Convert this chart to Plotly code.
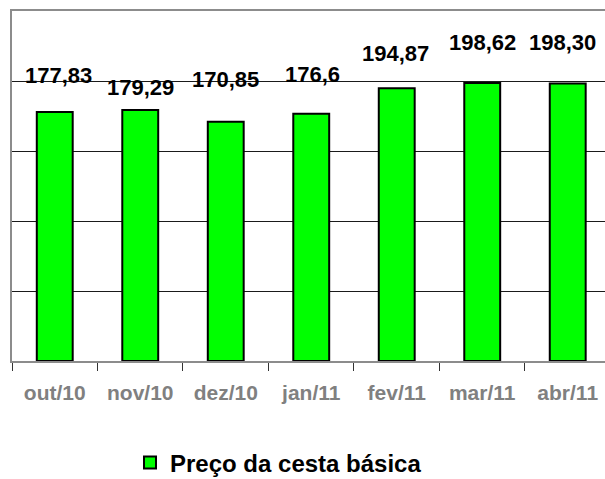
import plotly.graph_objects as go

categories = ["out/10", "nov/10", "dez/10", "jan/11", "fev/11", "mar/11", "abr/11"]
values = [177.83, 179.29, 170.85, 176.6, 194.87, 198.62, 198.30]
value_labels = ["177,83", "179,29", "170,85", "176,6", "194,87", "198,62", "198,30"]
series_name = "Preço da cesta básica"

# manual label offsets (pixels), as placed in the original chart
label_yshift = [36.5, 22.5, 42.3, 39.6, 34.5, 40.4, 40.9]
label_xshift = [4, 0, 0, 1, -1, 0, -5]

FONT = "Liberation Sans, Arial, sans-serif"

fig = go.Figure()
fig.add_trace(go.Bar(
    x=categories, y=values, name=series_name,
    marker=dict(color="#00FF00", line=dict(color="black", width=2)),
    showlegend=True, hoverinfo="skip",
))

for c, v, t, ys, xs in zip(categories, values, value_labels, label_yshift, label_xshift):
    fig.add_annotation(x=c, y=v, text=t, showarrow=False, yanchor="middle",
                       xanchor="center", yshift=ys, xshift=xs,
                       font=dict(family=FONT, size=22, color="black", weight="bold"))

fig.update_layout(
    width=605, height=479,
    margin=dict(l=12, r=0, t=11, b=118),
    paper_bgcolor="white", plot_bgcolor="white",
    bargap=0.58,
    showlegend=True,
    legend=dict(orientation="h", xref="container", yref="container",
                x=130 / 605, y=1 - 463 / 479, xanchor="left", yanchor="middle",
                font=dict(family=FONT, size=24, color="black", weight="bold"),
                bgcolor="rgba(0,0,0,0)"),
    xaxis=dict(
        type="category", range=[-0.5, 6.436],
        showline=True, linecolor="#8c8c8c", linewidth=2, mirror=True,
        ticks="outside", tickson="boundaries", ticklen=8, tickcolor="#333333", tickwidth=1,
        ticklabelstandoff=12,
        tickfont=dict(family=FONT, size=21, color="#808080", weight="bold"),
        showgrid=False, zeroline=False, fixedrange=True,
    ),
    yaxis=dict(
        range=[0, 250], dtick=50, showticklabels=False,
        showgrid=True, gridcolor="#1a1a1a", gridwidth=1,
        showline=True, linecolor="#8c8c8c", linewidth=2,
        ticks="", zeroline=False, fixedrange=True,
    ),
)

fig.write_html("out.html", config={"displayModeBar": False},
               post_script="document.body.style.margin='0px';document.body.style.overflow='hidden';")
